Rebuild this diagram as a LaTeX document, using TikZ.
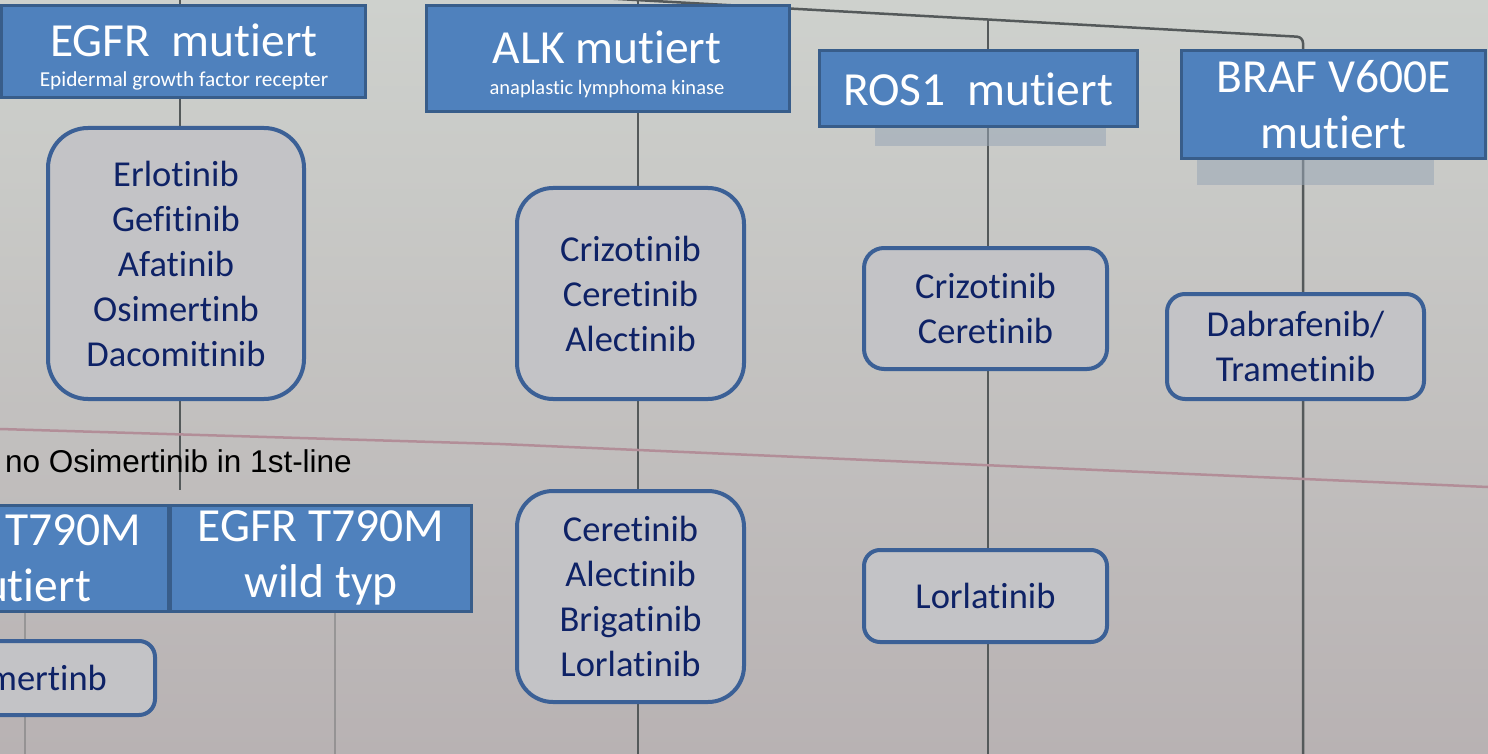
\documentclass[tikz,border=0pt]{standalone}
\usepackage{fontspec}
\setmainfont{Carlito}[Ligatures=NoCommon]
\newfontfamily\arialfont{Liberation Sans}
\begin{document}
\begin{tikzpicture}[x=1pt,y=-1pt,
  hdr/.style={draw=hdrborder,fill=hdrfill,line width=3pt,text=white,align=center,inner sep=0pt},
  drug/.style={draw=drugborder,fill=drugfill,line width=4pt,rounded corners=30pt,text=drugtext,align=center,inner sep=0pt,
    font=\fontsize{36.5}{45}\selectfont},
  bgline/.style={draw=bglinecol,line width=2.5pt},
  redline/.style={draw=redlinecol,line width=2.5pt},
  ghost/.style={fill=ghostcol,draw=none,opacity=0.55}]
\definecolor{hdrfill}{HTML}{4F81BD}
\definecolor{hdrborder}{HTML}{385D8A}
\definecolor{drugfill}{HTML}{C3C3C6}
\definecolor{drugborder}{HTML}{3B6096}
\definecolor{drugtext}{HTML}{0E2266}
\definecolor{bglinecol}{HTML}{54595A}
\definecolor{redlinecol}{HTML}{B28E98}
\definecolor{ghostcol}{HTML}{98A6B6}
\definecolor{bgtop}{HTML}{CED1CD}
\definecolor{bgbot}{HTML}{B8B2B3}
\useasboundingbox (0,0) rectangle (1488,754);
\clip (0,0) rectangle (1488,754);
\shade[top color=bgtop,bottom color=bgbot] (0,0) rectangle (1488,754);
% background photo lines
\coordinate (l1a) at (180,0);   \coordinate (l1b) at (180,490);
\coordinate (l2a) at (638,0);   \coordinate (l2b) at (638,754);
\coordinate (l3a) at (988,20);  \coordinate (l3b) at (988,754);
\coordinate (t0) at (600,-2);   \coordinate (t1) at (1303,37); \coordinate (t2) at (1303,754);
\coordinate (r0) at (0,429); \coordinate (r1) at (500,444); \coordinate (r2) at (1488,487);
\draw[bgline] (l1a) -- (l1b);
\draw[bgline] (l2a) -- (l2b);
\draw[bgline] (l3a) -- (l3b);
\draw[bgline,rounded corners=6pt] (t0) -- (t1) -- (t2);
\draw[redline] (r0) -- (r1) -- (r2);
\draw[bgline,opacity=0.35] (25,612) -- (25,754);
\draw[bgline,opacity=0.35] (335,612) -- (335,754);
% ghost boxes from the photo
\fill[ghost] (875,120) rectangle (1106,146);
\fill[ghost] (1197,152) rectangle (1434,185);
% header boxes
\node[hdr,minimum width=364pt,minimum height=92pt] (egfr) at (183.5,51.5) {};
\node[text=white,font=\fontsize{47.5}{56}\selectfont] (egfrt) at (184,40) {EGFR\ \ mutiert};
\node[text=white,font=\fontsize{21.3}{24}\selectfont] (egfrs) at (184,81) {Epidermal growth factor recepter};
\node[hdr,minimum width=363pt,minimum height=106pt] (alk) at (607.5,59) {};
\node[text=white,font=\fontsize{47.5}{56}\selectfont] (alkt) at (607,47) {ALK mutiert};
\node[text=white,font=\fontsize{20.5}{24}\selectfont] (alks) at (607,89) {anaplastic lymphoma kinase};
\node[hdr,minimum width=318pt,minimum height=76pt,font=\fontsize{47.5}{56}\selectfont] (ros) at (978,89) {ROS1\ \ mutiert};
\node[hdr,minimum width=304pt,minimum height=108pt,font=\fontsize{47.5}{56}\selectfont] (braf) at (1333.5,105) {BRAF V600E\\mutiert};
\node[hdr,minimum width=300pt,minimum height=106pt,font=\fontsize{47.5}{56}\selectfont] (t790m) at (18,558) {EGFR T790M\\mutiert};
\node[hdr,minimum width=301pt,minimum height=106pt,font=\fontsize{47.5}{56}\selectfont] (t790w) at (321,558) {EGFR T790M\\wild typ};
% drug boxes
\node[drug,minimum width=256pt,minimum height=271pt,rounded corners=40pt] (egfrd) at (176,263.5) {Erlotinib\\Gefitinib\\Afatinib\\Osimertinb\\Dacomitinib};
\node[drug,minimum width=227pt,minimum height=211pt,rounded corners=36pt] (alkd1) at (630.5,293.5) {Crizotinib\\Ceretinib\\Alectinib};
\node[drug,minimum width=227pt,minimum height=211pt,rounded corners=36pt] (alkd2) at (630.5,596.5) {Ceretinib\\Alectinib\\Brigatinib\\Lorlatinib};
\node[drug,minimum width=243pt,minimum height=121pt,rounded corners=20pt] (rosd1) at (985.5,308.5) {Crizotinib\\Ceretinib};
\node[drug,minimum width=243pt,minimum height=92pt,rounded corners=16pt] (rosd2) at (985.5,596) {Lorlatinib};
\node[drug,minimum width=257pt,minimum height=105pt,rounded corners=18pt] (brafd) at (1295.5,346.5) {Dabrafenib/\\Trametinib};
\node[drug,minimum width=262pt,minimum height=74pt,rounded corners=16pt] (osid) at (24,678) {Osimertinb};
% note
\node[anchor=west,font=\arialfont\fontsize{31.5}{36}\selectfont,text=black,inner sep=0pt] (note) at (5,461) {no Osimertinib in 1st-line};
\end{tikzpicture}
\end{document}
